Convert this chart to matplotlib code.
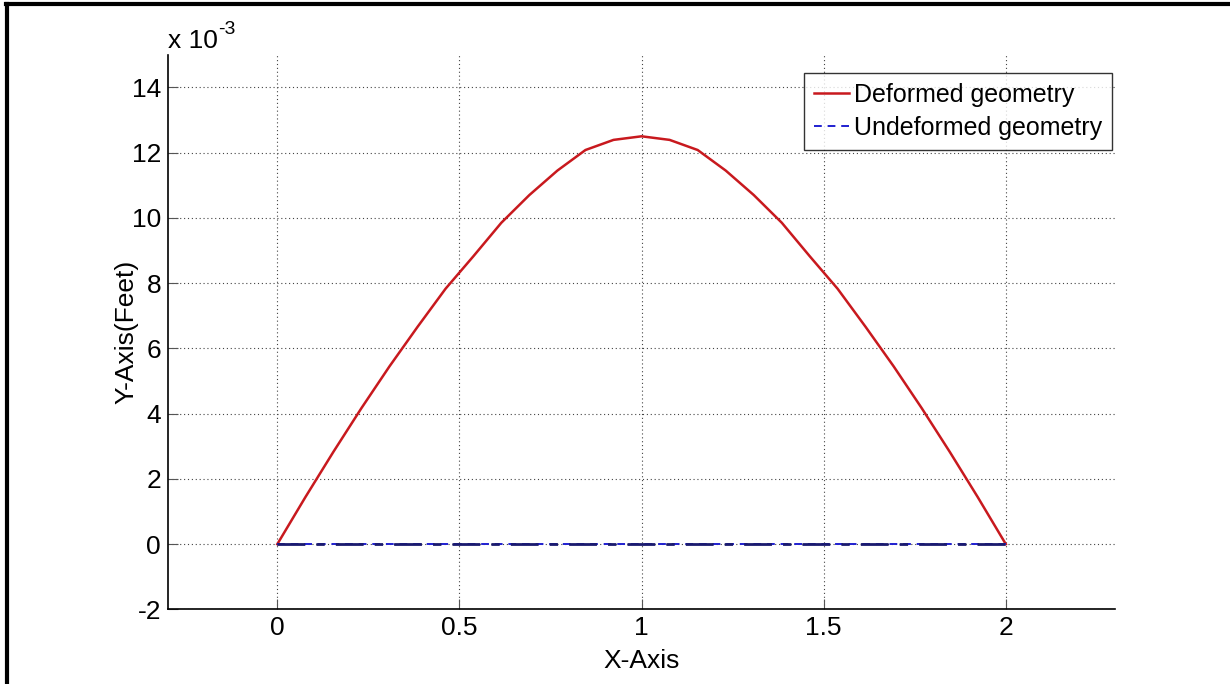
import matplotlib
matplotlib.use('Agg')
import matplotlib.pyplot as plt
from matplotlib.lines import Line2D

plt.rcParams['font.family'] = ['Liberation Sans', 'DejaVu Sans']

# beam nodes (feet) and deflection (x 10^-3 feet)
x_nodes = [0, 0.077, 0.154, 0.231, 0.308, 0.385, 0.462, 0.538, 0.615,
           0.692, 0.769, 0.846, 0.923, 1.0, 1.077, 1.154, 1.231, 1.308,
           1.385, 1.462, 1.538, 1.615, 1.692, 1.769, 1.846, 1.923, 2.0]
y_deformed = [0, 1.44, 2.83, 4.17, 5.45, 6.66, 7.83, 8.82, 9.85,
              10.7, 11.45, 12.08, 12.39, 12.5, 12.39, 12.08, 11.45, 10.7,
              9.85, 8.82, 7.83, 6.66, 5.45, 4.17, 2.83, 1.44, 0]
y_undeformed = [0] * len(x_nodes)

xticks = [0, 0.5, 1, 1.5, 2]
yticks = [-2, 0, 2, 4, 6, 8, 10, 12, 14]

fs = 19

fig = plt.figure(figsize=(12.3, 6.84), dpi=100)
ax = fig.add_axes([0.1366, 0.109, 0.77, 0.811])

ax.plot(x_nodes, y_deformed, color='#c8191e', lw=1.8, label='Deformed geometry')
ax.plot(x_nodes, y_undeformed, color='#2020d0', lw=1.4, ls='--',
        dashes=(4, 3), label='Undeformed geometry')
# the dash-dot overlay that shows on the zero line
ax.plot(x_nodes, y_undeformed, color='#1a1a6e', lw=2.0, ls='-.',
        dashes=(10, 4, 3, 4))

ax.set_xlim(-0.3, 2.3)
ax.set_ylim(-2, 15)
ax.set_xticks(xticks)
ax.set_xticklabels(['0', '0.5', '1', '1.5', '2'])
ax.set_yticks(yticks)
ax.set_yticklabels([str(v) for v in yticks])
ax.tick_params(labelsize=fs, direction='in', length=7, color='#555555', pad=5)
ax.grid(True, color='#444444', ls=(0, (1, 2.5)), lw=0.8)
for s in ['top', 'right']:
    ax.spines[s].set_visible(False)
for s in ['left', 'bottom']:
    ax.spines[s].set_linewidth(1.2)

ax.set_xlabel('X-Axis', fontsize=fs, labelpad=6)
ax.set_ylabel('Y-Axis(Feet)', fontsize=fs, labelpad=-5)

# exponent label above the y axis
t1 = ax.text(0.0, 1.0 + 7 / 555, 'x 10', transform=ax.transAxes,
             fontsize=fs, ha='left', va='baseline')
ax.annotate('-3', xy=(1.0, 0.95), xycoords=t1, fontsize=14,
            ha='left', va='center')

leg = ax.legend(loc='upper right', fontsize=18, frameon=True, fancybox=False,
                handlelength=1.4, handletextpad=0.2, borderpad=0.4,
                labelspacing=0.35, borderaxespad=0.0,
                bbox_to_anchor=(1112 / 1230, 1 - 73 / 684),
                bbox_transform=fig.transFigure)
leg.get_frame().set_edgecolor('black')
leg.get_frame().set_linewidth(1.0)

# outer frame of the picture (top and left edges)
fig.add_artist(Line2D([6 / 1230, 1], [1 - 4 / 684, 1 - 4 / 684],
                      transform=fig.transFigure, color='black', lw=3))
fig.add_artist(Line2D([7 / 1230, 7 / 1230], [0, 1 - 4 / 684],
                      transform=fig.transFigure, color='black', lw=3))

fig.savefig('out.png', dpi=100)
